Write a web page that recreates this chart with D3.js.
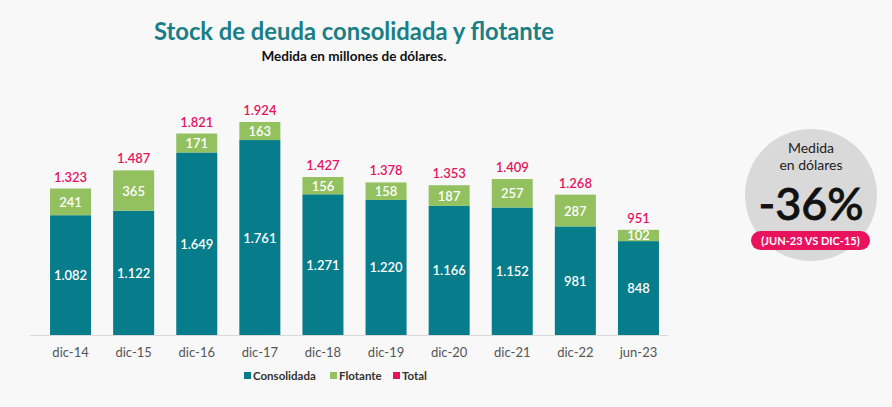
<!DOCTYPE html>
<html><head><meta charset="utf-8">
<script src="https://cdn.jsdelivr.net/npm/d3@7"></script>
<style>
html,body{margin:0;padding:0;background:#f8f8f8;}
svg{display:block;font-family:Lato,"Open Sans",sans-serif;}
</style></head><body>
<svg id="c" width="892" height="407"></svg>
<script>
const categories = ["dic-14","dic-15","dic-16","dic-17","dic-18","dic-19","dic-20","dic-21","dic-22","jun-23"];
const consolidada = [1082,1122,1649,1761,1271,1220,1166,1152,981,848];
const flotante = [241,365,171,163,156,158,187,257,287,102];
const total = [1323,1487,1821,1924,1427,1378,1353,1409,1268,951];
const legendLabels = ["Consolidada","Flotante","Total"];

const colors = {cons:"#077c8b", flot:"#93c160", tot:"#e5135f", title:"#1a7e86"};
const fmt = v => d3.format(",")(v).replace(/,/g,".");

const svg = d3.select("#c");
svg.append("rect").attr("width",892).attr("height",407).attr("fill","#f8f8f8");

const x = d3.scaleBand().domain(categories).range([39,670]).paddingInner(0.35).paddingOuter(0.175);
const y = d3.scaleLinear().domain([0,1924]).range([335,122]);

// title
svg.append("text").attr("x",354).attr("y",40).attr("text-anchor","middle")
  .attr("font-size",23.8).attr("font-weight","bold").attr("fill",colors.title)
  .text("Stock de deuda consolidada y flotante");
svg.append("text").attr("x",354).attr("y",61).attr("text-anchor","middle")
  .attr("font-size",13.5).attr("font-weight","bold").attr("fill","#111")
  .text("Medida en millones de dólares.");

// baseline
svg.append("line").attr("x1",30).attr("x2",668).attr("y1",335.5).attr("y2",335.5)
  .attr("stroke","#d9d9d9").attr("stroke-width",1);

const data = categories.map((c,i)=>({c, cons:consolidada[i], flot:flotante[i], tot:total[i]}));
const g = svg.append("g");
const bw = x.bandwidth();

g.selectAll(".cons").data(data).join("rect")
  .attr("x",d=>x(d.c)).attr("width",bw)
  .attr("y",d=>y(d.cons)).attr("height",d=>y(0)-y(d.cons)).attr("fill",colors.cons);
g.selectAll(".flot").data(data).join("rect")
  .attr("x",d=>x(d.c)).attr("width",bw)
  .attr("y",d=>y(d.cons+d.flot)).attr("height",d=>y(d.cons)-y(d.cons+d.flot)).attr("fill",colors.flot);

g.selectAll(".lc").data(data).join("text")
  .attr("x",d=>x(d.c)+bw/2).attr("y",d=>(y(0)+y(d.cons))/2+5)
  .attr("text-anchor","middle").attr("font-size",13).attr("font-weight",600).attr("fill","#fff")
  .text(d=>fmt(d.cons));
g.selectAll(".lf").data(data).join("text")
  .attr("x",d=>x(d.c)+bw/2).attr("y",d=>(y(d.cons)+y(d.cons+d.flot))/2+5)
  .attr("text-anchor","middle").attr("font-size",13).attr("font-weight",600).attr("fill","#fff")
  .text(d=>fmt(d.flot));
g.selectAll(".lt").data(data).join("text")
  .attr("x",d=>x(d.c)+bw/2).attr("y",d=>y(d.cons+d.flot)-7)
  .attr("text-anchor","middle").attr("font-size",13).attr("font-weight",600).attr("fill",colors.tot)
  .text(d=>fmt(d.tot));

// x axis
const xa = svg.append("g").attr("transform","translate(0,335)")
  .call(d3.axisBottom(x).tickSize(0).tickPadding(10));
xa.select(".domain").remove();
xa.selectAll("text").attr("font-size",13).attr("fill","#555").attr("font-family","Lato,sans-serif").attr("dy","0.9em");

// legend
const legColors = [colors.cons, colors.flot, colors.tot];
const legX = [244, 330, 393];
const lg = svg.append("g");
legendLabels.forEach((t,i)=>{
  lg.append("rect").attr("x",legX[i]).attr("y",372).attr("width",7).attr("height",7).attr("fill",legColors[i]);
  lg.append("text").attr("x",legX[i]+9).attr("y",380).attr("font-size",11.5).attr("font-weight","bold")
    .attr("fill","#333").text(t);
});

// badge
const b = svg.append("g");
b.append("circle").attr("cx",811).attr("cy",195).attr("r",66).attr("fill","#d9d9d9");
b.append("text").attr("x",811).attr("y",153).attr("text-anchor","middle").attr("font-size",14).attr("fill","#222").text("Medida");
b.append("text").attr("x",811).attr("y",170).attr("text-anchor","middle").attr("font-size",14).attr("fill","#222").text("en dólares");
b.append("text").attr("x",811).attr("y",220).attr("text-anchor","middle").attr("font-size",45).attr("font-weight",500)
  .attr("fill","#111").attr("stroke","#111").attr("stroke-width",0.8).text("-36%");
b.append("rect").attr("x",751).attr("y",231).attr("width",119).attr("height",19).attr("rx",9.5).attr("fill","#e8125d");
b.append("text").attr("x",810.5).attr("y",245).attr("text-anchor","middle").attr("font-size",11).attr("font-weight","bold").attr("fill","#fff").text("(JUN-23 VS DIC-15)");
</script>
</body></html>
